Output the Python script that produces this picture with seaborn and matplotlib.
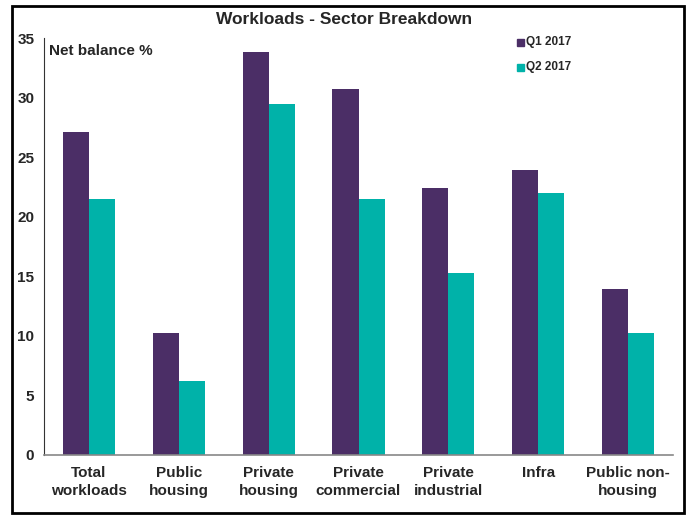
import matplotlib
matplotlib.use("Agg")
import matplotlib.pyplot as plt
import seaborn as sns
import pandas as pd
from matplotlib.patches import Rectangle

categories = ["Total\nworkloads", "Public\nhousing", "Private\nhousing", "Private\ncommercial",
              "Private\nindustrial", "Infra", "Public non-\nhousing"]
q1_values = [27.1, 10.2, 33.8, 30.7, 22.4, 23.9, 13.9]
q2_values = [21.5, 6.2, 29.5, 21.5, 15.3, 22.0, 10.2]
series_names = ["Q1 2017", "Q2 2017"]
y_ticks = [0, 5, 10, 15, 20, 25, 30, 35]

sns.set_theme(style="white")
plt.rcParams['font.family'] = ['Liberation Sans Narrow', 'Liberation Sans', 'DejaVu Sans']
plt.rcParams['font.weight'] = 'bold'

df = pd.DataFrame({
    "category": categories * 2,
    "value": q1_values + q2_values,
    "series": [series_names[0]] * len(categories) + [series_names[1]] * len(categories),
})

fig = plt.figure(figsize=(6.88, 5.16), dpi=100)
ax = fig.add_axes([44/688, 1 - 455/516, (673-44)/688, (455-38)/516])

palette = {"Q1 2017": "#4B2E66", "Q2 2017": "#00B2A9"}
sns.barplot(data=df, x="category", y="value", hue="series", palette=palette,
            width=0.58, saturation=1, ax=ax, legend=False, linewidth=0)

ax.set_ylim(0, 35)
ax.set_xlim(-0.5, 6.5)
ax.set_yticks(y_ticks)
ax.set_yticklabels([str(t) for t in y_ticks], fontsize=11, fontweight='bold')
ax.tick_params(axis='y', length=0, pad=7)
ax.tick_params(axis='x', length=0, pad=8)
ax.set_xticks(range(len(categories)))
ax.set_xticklabels(categories, fontsize=11, fontweight='bold', linespacing=1.35)
ax.set_xlabel("")
ax.set_ylabel("")
for s in ["top", "right"]:
    ax.spines[s].set_visible(False)
ax.spines["left"].set_color("#333333")
ax.spines["left"].set_linewidth(0.8)
ax.spines["bottom"].set_color("#888888")
ax.spines["bottom"].set_linewidth(1.2)

ax.text(0.008, 0.985, "Net balance %", transform=ax.transAxes, fontsize=11,
        fontweight='bold', va='top', ha='left')

fig.text(0.5, 1 - 20/516, "Workloads - Sector Breakdown", ha='center', va='center',
         fontsize=12.5, fontweight='bold')

# legend
for i, name in enumerate(series_names):
    y = 1 - (42 + i * 25) / 516
    fig.patches.append(Rectangle((517/688, y - 4/516), 7/688, 7/516, transform=fig.transFigure,
                                 color=palette[name]))
    fig.text(526/688, y, name, fontsize=8.5, fontweight='bold', va='center', ha='left')

# border
fig.patches.append(Rectangle((12/688, 3/516), (684-12)/688, (507-0)/516, transform=fig.transFigure,
                             fill=False, edgecolor='black', linewidth=2))

fig.savefig("out.png", dpi=100)
